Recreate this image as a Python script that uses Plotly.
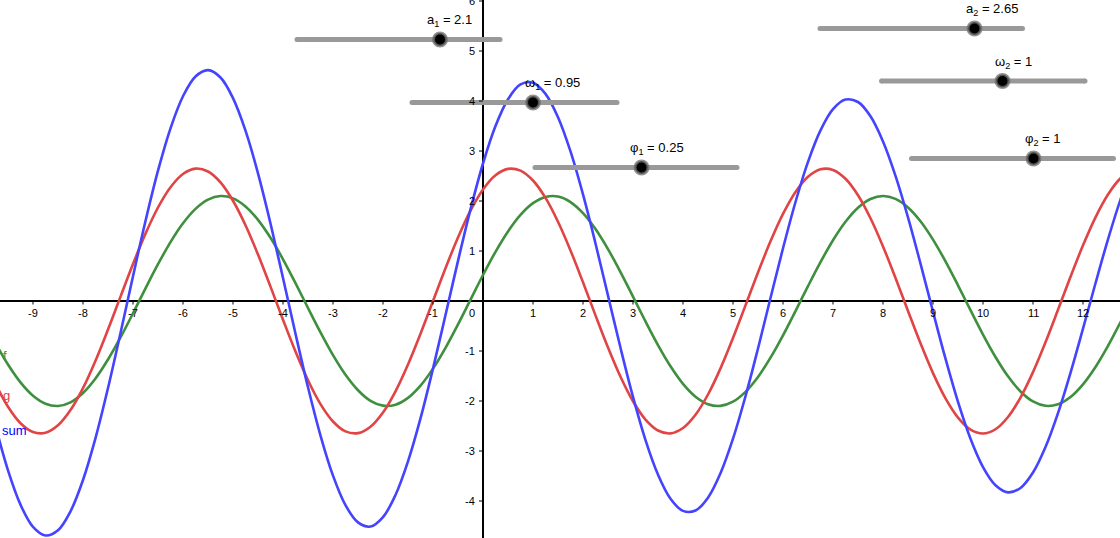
import plotly.graph_objects as go

# ---------------- data ----------------
x_vals = [-10, -9.75, -9.5, -9.25, -9, -8.75, -8.5, -8.25, -8, -7.75, -7.5, -7.25,
          -7, -6.75, -6.5, -6.25, -6, -5.75, -5.5, -5.25, -5, -4.75, -4.5, -4.25,
          -4, -3.75, -3.5, -3.25, -3, -2.75, -2.5, -2.25, -2, -1.75, -1.5, -1.25,
          -1, -0.75, -0.5, -0.25, 0, 0.25, 0.5, 0.75, 1, 1.25, 1.5, 1.75,
          2, 2.25, 2.5, 2.75, 3, 3.25, 3.5, 3.75, 4, 4.25, 4.5, 4.75,
          5, 5.25, 5.5, 5.75, 6, 6.25, 6.5, 6.75, 7, 7.25, 7.5, 7.75,
          8, 8.25, 8.5, 8.75, 9, 9.25, 9.5, 9.75, 10, 10.25, 10.5, 10.75,
          11, 11.25, 11.5, 11.75, 12, 12.25, 12.5, 12.75, 13]

f_vals = [-0.365, -0.841, -1.270, -1.628, -1.895, -2.054, -2.099, -2.026, -1.839, -1.549, -1.171, -0.729,
          -0.245, 0.253, 0.736, 1.178, 1.554, 1.843, 2.028, 2.099, 2.053, 1.891, 1.623, 1.264,
          0.834, 0.357, -0.140, -0.629, -1.083, -1.476, -1.785, -1.996, -2.093, -2.074, -1.938, -1.693,
          -1.353, -0.937, -0.468, 0.026, 0.520, 0.984, 1.392, 1.723, 1.957, 2.081, 2.089, 1.979,
          1.757, 1.438, 1.037, 0.579, 0.087, -0.409, -0.882, -1.306, -1.656, -1.913, -2.063, -2.097,
          -2.014, -1.817, -1.519, -1.134, -0.687, -0.201, 0.297, 0.777, 1.215, 1.584, 1.864, 2.039,
          2.100, 2.043, 1.872, 1.595, 1.228, 0.793, 0.313, -0.184, -0.671, -1.120, -1.507, -1.809,
          -2.009, -2.096, -2.066, -1.920, -1.666, -1.319, -0.897, -0.425, 0.071]

g_vals = [-1.092, -1.656, -2.116, -2.445, -2.622, -2.636, -2.486, -2.181, -1.741, -1.193, -0.570, 0.088,
          0.740, 1.347, 1.870, 2.276, 2.541, 2.648, 2.590, 2.372, 2.005, 1.515, 0.930, 0.287,
          -0.374, -1.012, -1.586, -2.062, -2.410, -2.608, -2.643, -2.515, -2.230, -1.806, -1.270, -0.656,
          0.000, 0.656, 1.270, 1.806, 2.230, 2.515, 2.643, 2.608, 2.410, 2.062, 1.586, 1.012,
          0.374, -0.287, -0.930, -1.515, -2.005, -2.372, -2.590, -2.648, -2.541, -2.276, -1.870, -1.347,
          -0.740, -0.088, 0.570, 1.193, 1.741, 2.181, 2.486, 2.636, 2.622, 2.445, 2.116, 1.656,
          1.092, 0.461, -0.199, -0.847, -1.442, -1.947, -2.331, -2.571, -2.650, -2.565, -2.320, -1.931,
          -1.422, -0.825, -0.176, 0.484, 1.113, 1.674, 2.130, 2.454, 2.625]

sum_vals = [-1.457, -2.497, -3.386, -4.073, -4.517, -4.690, -4.585, -4.207, -3.580, -2.742, -1.741, -0.641,
            0.495, 1.600, 2.606, 3.454, 4.095, 4.491, 4.618, 4.471, 4.058, 3.406, 2.553, 1.551,
            0.460, -0.655, -1.726, -2.691, -3.493, -4.084, -4.428, -4.511, -4.323, -3.880, -3.208, -2.349,
            -1.353, -0.281, 0.802, 1.832, 2.750, 3.499, 4.035, 4.331, 4.367, 4.143, 3.675, 2.991,
            2.131, 1.151, 0.107, -0.936, -1.918, -2.781, -3.472, -3.954, -4.197, -4.189, -3.933, -3.444,
            -2.754, -1.905, -0.949, 0.059, 1.054, 1.980, 2.783, 3.413, 3.837, 4.029, 3.980, 3.695,
            3.192, 2.504, 1.673, 0.748, -0.214, -1.154, -2.018, -2.755, -3.321, -3.685, -3.827, -3.740,
            -3.431, -2.921, -2.242, -1.436, -0.553, 0.355, 1.233, 2.029, 2.696]

x_ticks = [-9, -8, -7, -6, -5, -4, -3, -2, -1, 1, 2, 3, 4, 5, 6, 7, 8, 9, 10, 11, 12]
y_ticks = [-4, -3, -2, -1, 1, 2, 3, 4, 5, 6]

slider_names = ["a<sub>1</sub>", "ω<sub>1</sub>", "φ<sub>1</sub>",
                "a<sub>2</sub>", "ω<sub>2</sub>", "φ<sub>2</sub>"]
slider_values = ["2.1", "0.95", "0.25", "2.65", "1", "1"]

# ---------------- layout / styling (positions in axis units) ----------------
slider_x0 = [-3.72, -1.42, 1.04, 6.74, 7.97, 8.57]
slider_x1 = [0.34, 2.68, 5.08, 10.79, 12.04, 12.61]
slider_y = [5.23, 3.97, 2.67, 5.45, 4.40, 2.85]
knob_x = [-0.86, 1.00, 3.17, 9.83, 10.39, 11.01]
label_dx = [-15, -10, -14, -11, -10, -11]

GREEN = "#3e8f3e"
RED = "#e04444"
BLUE = "#4444ff"
FONT = "Liberation Sans, Arial, sans-serif"

fig = go.Figure()

fig.add_trace(go.Scatter(x=x_vals, y=f_vals, mode="lines", line=dict(color=GREEN, width=2.6, shape="spline"),
                         hoverinfo="skip", showlegend=False))
fig.add_trace(go.Scatter(x=x_vals, y=g_vals, mode="lines", line=dict(color=RED, width=2.6, shape="spline"),
                         hoverinfo="skip", showlegend=False))
fig.add_trace(go.Scatter(x=x_vals, y=sum_vals, mode="lines", line=dict(color=BLUE, width=2.6, shape="spline"),
                         hoverinfo="skip", showlegend=False))

# sliders
for i in range(len(slider_names)):
    fig.add_trace(go.Scatter(x=[slider_x0[i], slider_x1[i]], y=[slider_y[i], slider_y[i]],
                             mode="lines+markers",
                             line=dict(color="#999999", width=5),
                             marker=dict(color="#999999", size=5),
                             hoverinfo="skip", showlegend=False))
    fig.add_trace(go.Scatter(x=[knob_x[i]], y=[slider_y[i]], mode="markers",
                             marker=dict(color="black", size=13,
                                         line=dict(color="rgba(110,110,110,0.75)", width=3)),
                             hoverinfo="skip", showlegend=False))
    fig.add_annotation(x=knob_x[i], y=slider_y[i], xref="x", yref="y",
                       text=f"{slider_names[i]} = {slider_values[i]}",
                       showarrow=False, xanchor="left", yanchor="middle",
                       xshift=label_dx[i], yshift=19,
                       font=dict(family=FONT, size=13, color="black"))

# axis tick marks and labels
shapes = []
for t in x_ticks:
    shapes.append(dict(type="line", xref="x", yref="y", x0=t, x1=t, y0=0, y1=-0.07,
                       line=dict(color="black", width=1)))
    fig.add_annotation(x=t, y=0, xref="x", yref="y", text=str(t),
                       showarrow=False, xanchor="center", yanchor="middle", yshift=-12,
                       font=dict(family=FONT, size=11, color="black"))
for t in y_ticks:
    shapes.append(dict(type="line", xref="x", yref="y", x0=-0.08, x1=0, y0=t, y1=t,
                       line=dict(color="black", width=1)))
    fig.add_annotation(x=0, y=t, xref="x", yref="y", text=str(t),
                       showarrow=False, xanchor="right", yanchor="middle", xshift=-6,
                       font=dict(family=FONT, size=11, color="black"))
fig.add_annotation(x=0, y=0, xref="x", yref="y", text="0", showarrow=False,
                   xanchor="right", yanchor="middle", xshift=-6, yshift=-12,
                   font=dict(family=FONT, size=11, color="black"))

# curve names at the left edge
fig.add_annotation(x=-9.66, y=-1.08, xref="x", yref="y", text="f", showarrow=False,
                   xanchor="left", yanchor="middle", xshift=1,
                   font=dict(family=FONT, size=13, color=GREEN))
fig.add_annotation(x=-9.66, y=-1.88, xref="x", yref="y", text="g", showarrow=False,
                   xanchor="left", yanchor="middle", xshift=1,
                   font=dict(family=FONT, size=13, color=RED))
fig.add_annotation(x=-9.66, y=-2.58, xref="x", yref="y", text="sum", showarrow=False,
                   xanchor="left", yanchor="middle",
                   font=dict(family=FONT, size=13, color="#0000ff"))

fig.update_layout(
    width=1120, height=538,
    margin=dict(l=0, r=0, t=0, b=0),
    paper_bgcolor="white", plot_bgcolor="white",
    shapes=shapes,
    xaxis=dict(range=[-9.66, 12.74], showgrid=False, zeroline=True, zerolinecolor="black",
               zerolinewidth=1.5, showticklabels=False, ticks="", showline=False, fixedrange=True),
    yaxis=dict(range=[-4.74, 6.02], showgrid=False, zeroline=True, zerolinecolor="black",
               zerolinewidth=1.5, showticklabels=False, ticks="", showline=False, fixedrange=True),
)

fig.write_html("out.html", config={"displayModeBar": False},
               post_script="document.body.style.margin='0';document.body.style.overflow='hidden';")
